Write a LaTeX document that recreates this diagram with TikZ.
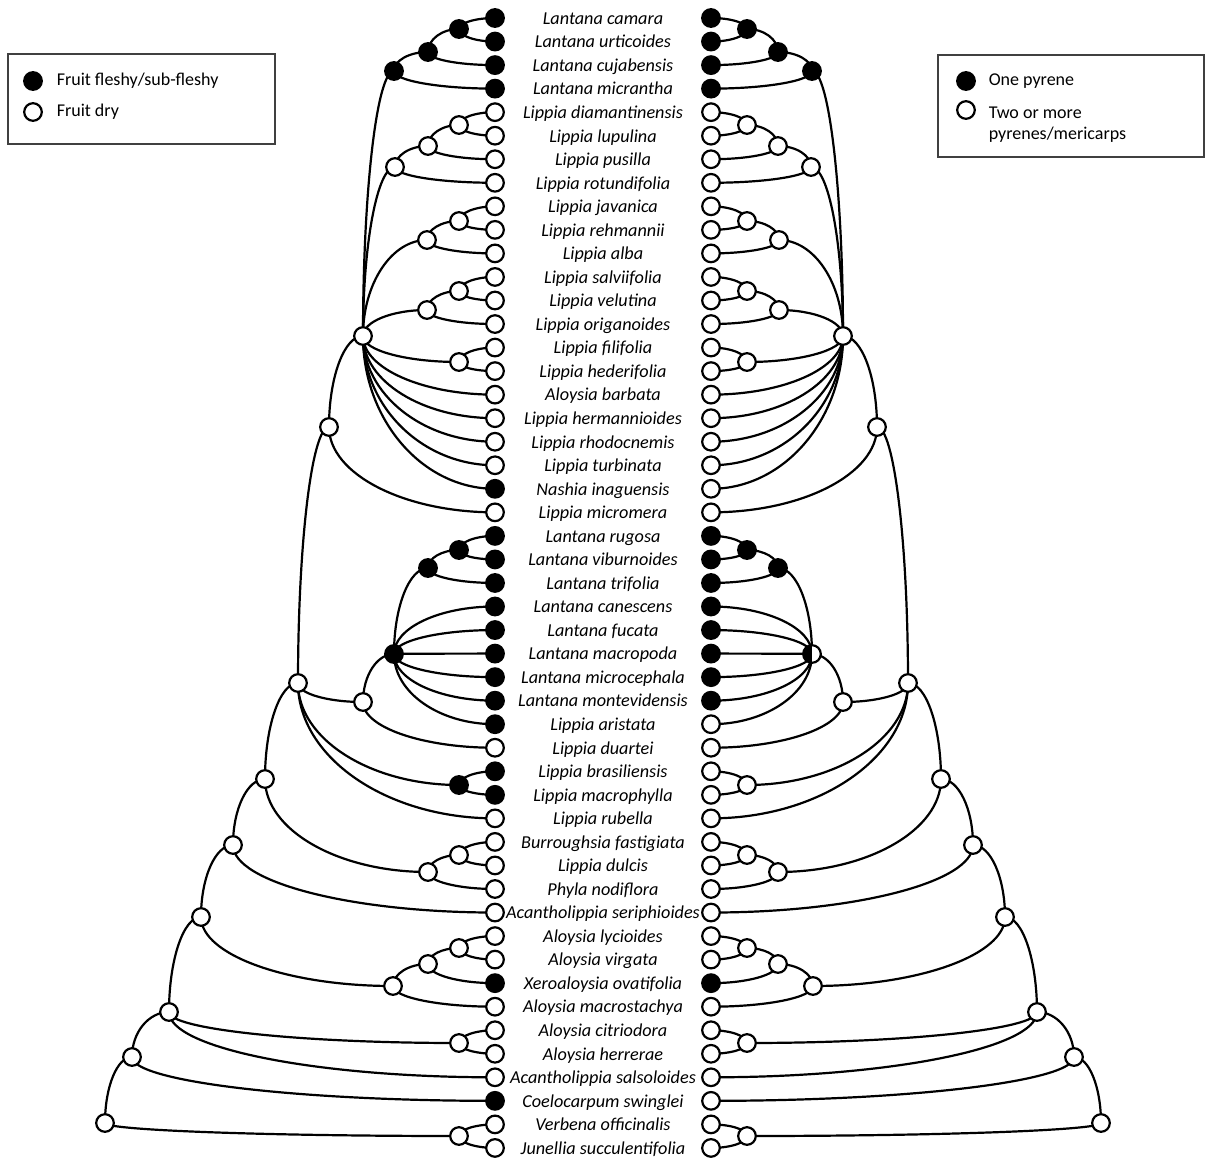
\documentclass[tikz,border=0pt]{standalone}
\usepackage{fontspec}
\setmainfont{Carlito}
\usetikzlibrary{calc,backgrounds}

% branch: leaves the parent vertically, reaches the child horizontally
\newcommand{\branch}[2]{%
  \draw[edge] (#1.center) .. controls ($(#1.center)!0.55!(#1.center |- #2.center)$)
    and ($(#2.center)!0.55!(#1.center |- #2.center)$) .. (#2.center);}

\begin{document}
\begin{tikzpicture}[x=0.5pt,y=0.5pt,line width=1.1pt,
  edge/.style={line width=1.1pt},
  tip/.style={circle,draw,minimum size=8.8pt,inner sep=0pt},
  half/.style={tip,fill=white,path picture={\fill[black] (path picture bounding box.south west) rectangle (path picture bounding box.north);}},
  taxon/.style={font=\fontsize{9.1}{10}\selectfont\itshape,inner sep=1pt,text height=6.6pt,text depth=1.9pt,yshift=-0.8pt},
  legend/.style={font=\fontsize{9}{10.5}\selectfont,anchor=west,align=left}]

\useasboundingbox (0,0) rectangle (1205,-1158);

% taxa: fruit state / pyrene state / name
\foreach \lc/\rc/\name [count=\i] in {
  black/black/Lantana camara, black/black/Lantana urticoides,
  black/black/Lantana cujabensis, black/black/Lantana micrantha,
  white/white/Lippia diamantinensis, white/white/Lippia lupulina,
  white/white/Lippia pusilla, white/white/Lippia rotundifolia,
  white/white/Lippia javanica, white/white/Lippia rehmannii,
  white/white/Lippia alba, white/white/Lippia salviifolia,
  white/white/Lippia velutina, white/white/Lippia origanoides,
  white/white/Lippia filifolia, white/white/Lippia hederifolia,
  white/white/Aloysia barbata, white/white/Lippia hermannioides,
  white/white/Lippia rhodocnemis, white/white/Lippia turbinata,
  black/white/Nashia inaguensis, white/white/Lippia micromera,
  black/black/Lantana rugosa, black/black/Lantana viburnoides,
  black/black/Lantana trifolia, black/black/Lantana canescens,
  black/black/Lantana fucata, black/black/Lantana macropoda,
  black/black/Lantana microcephala, black/black/Lantana montevidensis,
  black/white/Lippia aristata, white/white/Lippia duartei,
  black/white/Lippia brasiliensis, black/white/Lippia macrophylla,
  white/white/Lippia rubella, white/white/Burroughsia fastigiata,
  white/white/Lippia dulcis, white/white/Phyla nodiflora,
  white/white/Acantholippia seriphioides, white/white/Aloysia lycioides,
  white/white/Aloysia virgata, black/black/Xeroaloysia ovatifolia,
  white/white/Aloysia macrostachya, white/white/Aloysia citriodora,
  white/white/Aloysia herrerae, white/white/Acantholippia salsoloides,
  black/white/Coelocarpum swinglei, white/white/Verbena officinalis,
  white/white/Junellia succulentifolia}{
  \pgfmathsetmacro{\yy}{-18-(\i-1)*23.54}
  \node[tip,fill=\lc] (f_\i) at (495,\yy) {};
  \node[tip,fill=\rc] (p_\i) at (711,\yy) {};
  \node[taxon] (n_\i) at (603,\yy) {\name};
}

% ancestral nodes, left tree (fruit) and mirrored right tree (pyrenes)
\foreach \n/\x/\y/\lc/\rc in {
  A1/459/29/black/black, A2/428/52/black/black, A3/394/71/black/black,
  B1/459/125/white/white, B2/428/146/white/white, B3/395/167/white/white,
  C1/459/221/white/white, C2/427/240/white/white,
  D1/459/291/white/white, D2/427/310/white/white, E1/459/362/white/white,
  P/363/336/white/white, Q/329/427/white/white,
  V1/459/550/black/black, V2/428/568/black/black,
  S/363/702/white/white, T/459/785/black/white, R/298/683/white/white,
  W/265/779/white/white, BF2/459/855/white/white, BF/428/872/white/white,
  X/233/845/white/white, AL1/459/948/white/white, AL2/428/964/white/white,
  AL/393/986/white/white, Y/201/917/white/white, AC/459/1043/white/white,
  Z/169/1012/white/white, ZZ/132/1057/white/white, VJ/459/1136/white/white,
  root/105/1123/white/white}{
  \node[tip,fill=\lc] (f_\n) at (\x,-\y) {};
  \node[tip,fill=\rc] (p_\n) at (1206-\x,-\y) {};
}
\node[tip,fill=black] (f_U) at (394,-654) {};
\node[half] (p_U) at (812,-654) {};

\begin{scope}[on background layer]
\foreach \s in {f,p}
  \foreach \a/\b in {A1/1, A1/2, A2/A1, A2/3, A3/A2, A3/4,
    B1/5, B1/6, B2/B1, B2/7, B3/B2, B3/8,
    C1/9, C1/10, C2/C1, C2/11, D1/12, D1/13, D2/D1, D2/14, E1/15, E1/16,
    P/A3, P/B3, P/C2, P/D2, P/E1, P/17, P/18, P/19, P/20, P/21,
    Q/P, Q/22,
    V1/23, V1/24, V2/V1, V2/25,
    U/V2, U/26, U/27, U/28, U/29, U/30, U/31,
    S/U, S/32, T/33, T/34,
    R/Q, R/S, R/T, R/35, W/R, W/BF,
    BF2/36, BF2/37, BF/BF2, BF/38, X/W, X/39,
    AL1/40, AL1/41, AL2/AL1, AL2/42, AL/AL2, AL/43,
    Y/X, Y/AL, AC/44, AC/45, Z/Y, Z/AC, Z/46,
    ZZ/Z, ZZ/47, VJ/48, VJ/49, root/ZZ, root/VJ}
    \branch{\s_\a}{\s_\b};
\end{scope}

% legends
\draw[line width=0.7pt,black!75] (8,-54) rectangle (275,-144);
\node[tip,fill=black] (lf_1) at (33,-81) {};
\node[legend] (lf_1t) at (49,-81) {Fruit fleshy/sub-fleshy};
\node[tip,fill=white] (lf_2) at (33,-112) {};
\node[legend] (lf_2t) at (49,-112) {Fruit dry};

\draw[line width=0.7pt,black!75] (938,-55) rectangle (1204,-157);
\node[tip,fill=black] (lp_1) at (966,-81) {};
\node[legend] (lp_1t) at (981,-81) {One pyrene};
\node[tip,fill=white] (lp_2) at (966,-110) {};
\node[legend,anchor=north west] (lp_2t) at (981,-99) {Two or more\\pyrenes/mericarps};

\end{tikzpicture}
\end{document}
